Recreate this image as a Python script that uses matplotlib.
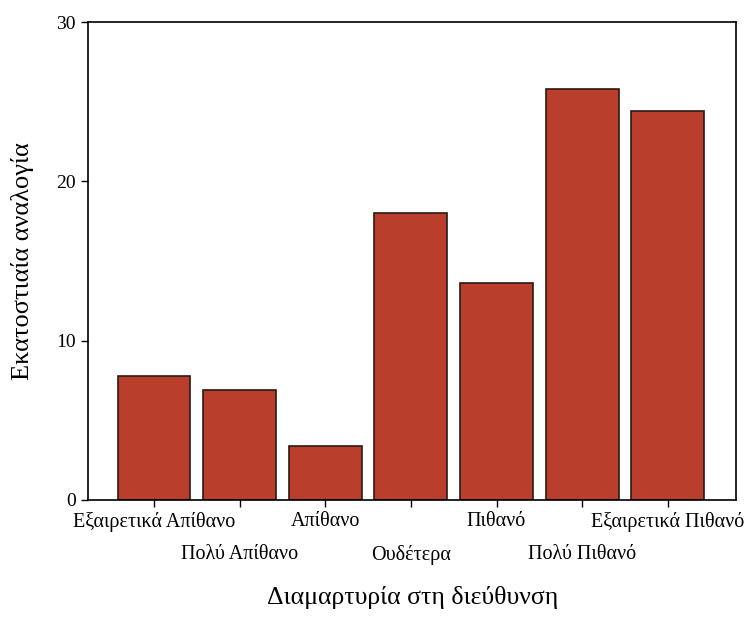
import matplotlib.pyplot as plt
import matplotlib.transforms as mtransforms

plt.rcParams['font.family'] = ['Liberation Serif', 'DejaVu Serif']

# δεδομένα
categories = ['Εξαιρετικά Απίθανο', 'Πολύ Απίθανο', 'Απίθανο', 'Ουδέτερα',
              'Πιθανό', 'Πολύ Πιθανό', 'Εξαιρετικά Πιθανό']
percentages = [7.8, 6.9, 3.4, 18.0, 13.6, 25.8, 24.4]
y_ticks = [0, 10, 20, 30]

fig = plt.figure(figsize=(7.46, 6.32), dpi=100)
ax = fig.add_axes([0.118, 0.209, 0.869, 0.756])

x = list(range(len(categories)))
ax.bar(x, percentages, width=0.85, color='#B93E2C', edgecolor='#2a1a14', linewidth=1.2)

ax.set_xlim(-0.77, 6.8)
ax.set_ylim(0, 30)
ax.set_yticks(y_ticks)
ax.set_yticklabels([str(v) for v in y_ticks], fontsize=14)
ax.set_xticks(x)
ax.set_xticklabels(categories, fontsize=14.5)

for spine in ax.spines.values():
    spine.set_linewidth(1.2)
ax.tick_params(direction='out', length=5, width=1.0, pad=4)

# κάθε δεύτερη ετικέτα σε δεύτερη γραμμή
shift = mtransforms.ScaledTranslation(0, -0.33, fig.dpi_scale_trans)
for i, lbl in enumerate(ax.get_xticklabels()):
    if i % 2 == 1:
        lbl.set_transform(lbl.get_transform() + shift)

ax.set_xlabel('Διαμαρτυρία στη διεύθυνση', fontsize=18.5)
ax.xaxis.set_label_coords(0.5, -0.18)
ax.set_ylabel('Εκατοστιαία αναλογία', fontsize=19)
ax.yaxis.set_label_coords(-0.083, 0.5)

fig.savefig('out.png', dpi=100)
